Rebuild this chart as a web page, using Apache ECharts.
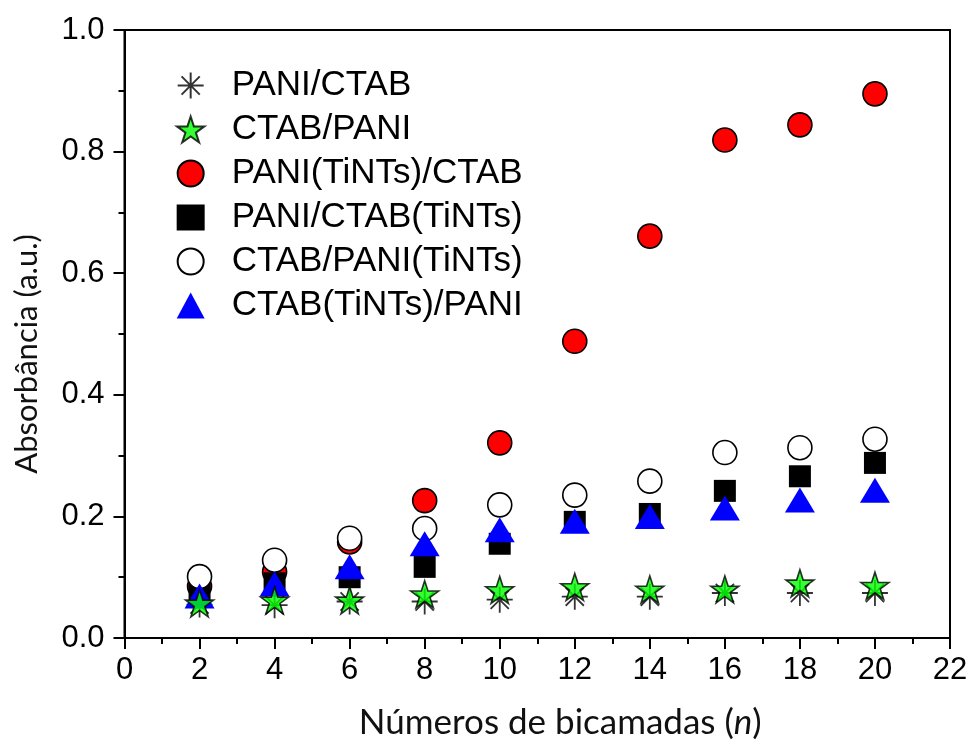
<!DOCTYPE html>
<html>
<head>
<meta charset="utf-8">
<script src="https://cdn.jsdelivr.net/npm/echarts@6/dist/echarts.min.js"></script>
<style>
  html, body { margin: 0; padding: 0; background: #fff; }
  #chart { width: 971px; height: 751px; }
</style>
</head>
<body>
<div id="chart"></div>
<script>
// Number of bilayers (n)
const layers = [2, 4, 6, 8, 10, 12, 14, 16, 18, 20];

// Absorbance (a.u.) for each film architecture
const paniCtab      = [0.055, 0.054, 0.060, 0.060, 0.063, 0.068, 0.068, 0.074, 0.074, 0.074];
const ctabPani      = [0.057, 0.062, 0.062, 0.072, 0.079, 0.084, 0.080, 0.080, 0.090, 0.086];
const paniTintsCtab = [0.085, 0.109, 0.158, 0.226, 0.321, 0.488, 0.661, 0.819, 0.844, 0.895];
const paniCtabTints = [0.079, 0.090, 0.100, 0.117, 0.155, 0.191, 0.204, 0.242, 0.266, 0.288];
const ctabPaniTints = [0.101, 0.128, 0.164, 0.180, 0.219, 0.235, 0.258, 0.305, 0.313, 0.327];
const ctabTintsPani = [0.069, 0.089, 0.117, 0.155, 0.178, 0.192, 0.200, 0.214, 0.227, 0.243];

const seriesNames = [
  'PANI/CTAB',
  'CTAB/PANI',
  'PANI(TiNTs)/CTAB',
  'PANI/CTAB(TiNTs)',
  'CTAB/PANI(TiNTs)',
  'CTAB(TiNTs)/PANI'
];

const xTicks = { min: 0, max: 22, step: 2 };
const yTicks = { min: 0, max: 1, step: 0.2 };

const ASTERISK = 'path://M0,50 L100,50 M50,0 L50,100 M15,15 L85,85 M85,15 L15,85';
const STAR = 'path://M50,0 L61.23,34.55 L97.55,34.55 L68.17,55.9 L79.39,90.45 L50,69.1 L20.61,90.45 L31.83,55.9 L2.45,34.55 L38.77,34.55 Z';

const pairs = vals => layers.map((n, i) => [n, vals[i]]);

const tickFont = { fontFamily: 'Liberation Sans, Arial, sans-serif', fontSize: 31, color: '#000' };
const titleFont = 'Lato, "Open Sans", sans-serif';

const chart = echarts.init(document.getElementById('chart'), null, { renderer: 'canvas' });

chart.setOption({
  animation: false,
  backgroundColor: '#fff',
  grid: {
    left: 124.5, right: 21, top: 30, bottom: 113,
    show: true, borderColor: '#000', borderWidth: 2, backgroundColor: 'transparent'
  },
  legend: {
    data: seriesNames,
    orient: 'vertical',
    left: 171,
    top: 63,
    itemWidth: 28,
    itemHeight: 26,
    itemGap: 9,
    selectedMode: false,
    textStyle: {
      fontFamily: 'Liberation Sans, Arial, sans-serif',
      fontSize: 35,
      lineHeight: 34,
      color: '#000',
      padding: [0, 0, 0, 22]
    }
  },
  xAxis: {
    type: 'value',
    min: xTicks.min, max: xTicks.max, interval: xTicks.step,
    name: '{a|Números de bicamadas (}{i|n}{a|)}',
    nameLocation: 'middle',
    nameGap: 67,
    nameTextStyle: {
      padding: [0, 0, 0, 46],
      rich: {
        a: { fontFamily: titleFont, fontSize: 35, color: '#111' },
        i: { fontFamily: titleFont, fontSize: 35, color: '#111', fontStyle: 'italic' }
      }
    },
    axisLine: { show: true, onZero: false, lineStyle: { color: '#000', width: 2 } },
    axisTick: { show: true, inside: false, length: 11, lineStyle: { color: '#000', width: 2 } },
    minorTick: { show: true, splitNumber: 2, length: 6, lineStyle: { color: '#000', width: 2 } },
    splitLine: { show: false },
    axisLabel: Object.assign({ margin: 17 }, tickFont)
  },
  yAxis: {
    type: 'value',
    min: yTicks.min, max: yTicks.max, interval: yTicks.step,
    name: 'Absorbância (a.u.)',
    nameLocation: 'middle',
    nameGap: 82,
    nameTextStyle: { fontFamily: titleFont, fontSize: 31, color: '#111', padding: [0, 40, 0, 0] },
    axisLine: { show: true, onZero: false, lineStyle: { color: '#000', width: 2 } },
    axisTick: { show: true, inside: false, length: 11, lineStyle: { color: '#000', width: 2 } },
    minorTick: { show: true, splitNumber: 2, length: 6, lineStyle: { color: '#000', width: 2 } },
    splitLine: { show: false },
    axisLabel: Object.assign({ margin: 20, formatter: v => v.toFixed(1) }, tickFont)
  },
  series: [
    {
      name: seriesNames[0], type: 'scatter', z: 2,
      data: pairs(paniCtab),
      symbol: ASTERISK, symbolSize: [26, 26],
      itemStyle: { color: 'rgba(0,0,0,0)', borderColor: '#000', borderWidth: 1.8 }
    },
    {
      name: seriesNames[1], type: 'scatter', z: 7,
      data: pairs(ctabPani),
      symbol: STAR, symbolSize: [28, 27],
      itemStyle: { color: '#00ff00', borderColor: '#000', borderWidth: 1.6 }
    },
    {
      name: seriesNames[2], type: 'scatter', z: 3,
      data: pairs(paniTintsCtab),
      symbol: 'circle', symbolSize: 24,
      itemStyle: { color: '#ff0000', borderColor: '#000', borderWidth: 1.6, opacity: 1 }
    },
    {
      name: seriesNames[3], type: 'scatter', z: 4,
      data: pairs(paniCtabTints),
      symbol: 'rect', symbolSize: 22,
      itemStyle: { color: '#000', opacity: 1 }
    },
    {
      name: seriesNames[4], type: 'scatter', z: 5,
      data: pairs(ctabPaniTints),
      symbol: 'circle', symbolSize: 24,
      itemStyle: { color: '#fff', borderColor: '#000', borderWidth: 1.6, opacity: 1 }
    },
    {
      name: seriesNames[5], type: 'scatter', z: 6,
      data: pairs(ctabTintsPani),
      symbol: 'triangle', symbolSize: [30, 25],
      itemStyle: { color: '#0000ff', opacity: 1 }
    }
  ]
});
</script>
</body>
</html>
